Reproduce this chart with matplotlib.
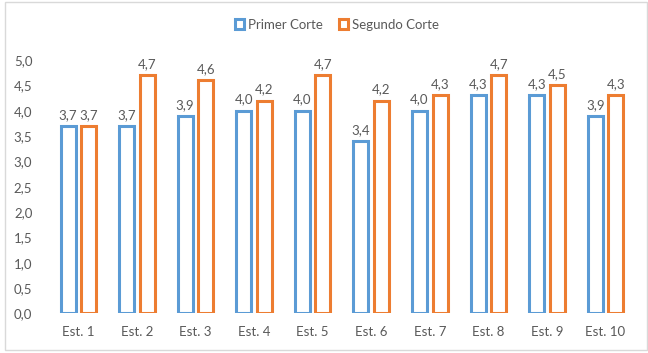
import numpy as np
import matplotlib.pyplot as plt
from matplotlib.patches import Rectangle

plt.rcParams['font.family'] = ['Lato', 'DejaVu Sans']

estudiantes = ['Est. 1', 'Est. 2', 'Est. 3', 'Est. 4', 'Est. 5',
               'Est. 6', 'Est. 7', 'Est. 8', 'Est. 9', 'Est. 10']
primer_corte = [3.7, 3.7, 3.9, 4.0, 4.0, 3.4, 4.0, 4.3, 4.3, 3.9]
segundo_corte = [3.7, 4.7, 4.6, 4.2, 4.7, 4.2, 4.3, 4.7, 4.5, 4.3]

azul = '#5B9BD5'
naranja = '#ED7D31'
gris = '#595959'

fig = plt.figure(figsize=(6.48, 3.53), dpi=100)
fig.patches.append(Rectangle((0.008, 0.008), 0.99, 0.985, transform=fig.transFigure,
                             fill=False, edgecolor='#d9d9d9', linewidth=1))
ax = fig.add_axes([0.0756, 0.112, 0.904, 0.718])

x = np.arange(len(estudiantes))
w = 0.256
off = 0.175
b1 = ax.bar(x - off, primer_corte, w, facecolor='white', edgecolor=azul,
            linewidth=2.2, label='Primer Corte')
b2 = ax.bar(x + off, segundo_corte, w, facecolor='white', edgecolor=naranja,
            linewidth=2.2, label='Segundo Corte')

for bars, vals in ((b1, primer_corte), (b2, segundo_corte)):
    for r, v in zip(bars, vals):
        ax.text(r.get_x() + r.get_width() / 2, v + 0.1, f'{v:.1f}'.replace('.', ','),
                ha='center', va='bottom', fontsize=9.5, color=gris, clip_on=False)

ax.set_xlim(-0.5, len(estudiantes) - 0.5)
ax.set_ylim(0, 5)
ax.set_yticks(np.arange(0, 5.01, 0.5))
ax.set_yticklabels([f'{t:.1f}'.replace('.', ',') for t in np.arange(0, 5.01, 0.5)])
ax.set_xticks(x)
ax.set_xticklabels(estudiantes)
ax.tick_params(length=0, labelsize=9.5, colors=gris)
ax.tick_params(axis='y', pad=12)
ax.tick_params(axis='x', pad=9)
for s in ax.spines.values():
    s.set_visible(False)

ax.legend(loc='center', bbox_to_anchor=(0.52, 0.93), bbox_transform=fig.transFigure,
          ncol=2, frameon=False, fontsize=9.5, labelcolor=gris,
          handlelength=0.7, handleheight=0.7, handletextpad=0.3, columnspacing=1.2)

fig.savefig('out.png', dpi=100)
